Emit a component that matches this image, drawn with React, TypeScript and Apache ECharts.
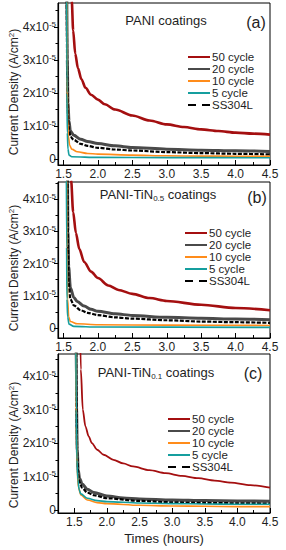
import React, { useEffect, useRef } from "react";
import * as echarts from "echarts";

// values in units of 1e-5 A/cm^2, time in hours
const legendNames = ["50 cycle", "20 cycle", "10 cycle", "5 cycle", "SS304L"];
const xTickValues = [1.5, 2.0, 2.5, 3.0, 3.5, 4.0, 4.5];
const xMinorValues = [1.25, 1.75, 2.25, 2.75, 3.25, 3.75, 4.25];
const yTickValues = [0, 1, 2, 3, 4];
const yMinorValues = [0.5, 1.5, 2.5, 3.5, 4.5];

// Panel (a) PANI coatings
const a50 = [[1.6, 6], [1.62, 4.8], [1.64, 3.9], [1.67, 3.2], [1.71, 2.75], [1.76, 2.42], [1.82, 2.16], [1.9, 1.95], [2.0, 1.8], [2.1, 1.66], [2.25, 1.5], [2.5, 1.32], [2.75, 1.17], [3.0, 1.05], [3.25, 0.97], [3.5, 0.9], [3.75, 0.85], [4.0, 0.8], [4.25, 0.77], [4.5, 0.74]];
const a20 = [[1.545, 6], [1.555, 3.0], [1.565, 1.7], [1.58, 1.15], [1.6, 0.85], [1.65, 0.72], [1.75, 0.6], [1.85, 0.53], [2.0, 0.47], [2.25, 0.4], [2.5, 0.35], [3.0, 0.3], [3.5, 0.27], [4.0, 0.25], [4.5, 0.23]];
const a10 = [[1.548, 6], [1.552, 2.5], [1.56, 1.2], [1.57, 0.7], [1.59, 0.42], [1.62, 0.3], [1.7, 0.22], [1.85, 0.17], [2.0, 0.15], [2.5, 0.12], [3.0, 0.1], [3.5, 0.09], [4.0, 0.085], [4.5, 0.08]];
const a5 = [[1.545, 6], [1.55, 2], [1.555, 0.8], [1.565, 0.3], [1.58, 0.12], [1.62, 0.07], [2.0, 0.05], [3.0, 0.045], [4.5, 0.04]];
const aSS = [[1.545, 6], [1.555, 2.4], [1.565, 1.3], [1.58, 0.9], [1.6, 0.68], [1.65, 0.58], [1.75, 0.46], [1.85, 0.4], [2.0, 0.34], [2.25, 0.29], [2.5, 0.26], [3.0, 0.21], [3.5, 0.18], [4.0, 0.16], [4.5, 0.14]];

// Panel (b) PANI-TiN0.5 coatings
const b50 = [[1.59, 6], [1.61, 4.6], [1.64, 3.6], [1.68, 2.95], [1.73, 2.45], [1.8, 2.05], [1.9, 1.75], [2.0, 1.55], [2.15, 1.32], [2.3, 1.18], [2.5, 1.06], [2.75, 0.93], [3.0, 0.84], [3.5, 0.72], [4.0, 0.62], [4.5, 0.55]];
const b20 = [[1.555, 6], [1.565, 3], [1.575, 1.9], [1.6, 1.25], [1.65, 0.95], [1.7, 0.82], [1.8, 0.68], [1.9, 0.58], [2.0, 0.52], [2.25, 0.44], [2.5, 0.39], [3.0, 0.33], [3.5, 0.3], [4.0, 0.28], [4.5, 0.26]];
const b10 = [[1.545, 6], [1.55, 2.5], [1.56, 0.9], [1.575, 0.35], [1.6, 0.2], [1.7, 0.13], [2.0, 0.1], [3.0, 0.09], [4.5, 0.08]];
const b5 = [[1.54, 6], [1.545, 2.5], [1.55, 0.9], [1.56, 0.35], [1.58, 0.12], [1.65, 0.05], [2.0, 0.03], [4.5, 0.02]];
const bSS = [[1.555, 6], [1.565, 2.5], [1.575, 1.4], [1.6, 0.9], [1.65, 0.7], [1.75, 0.55], [1.85, 0.47], [2.0, 0.4], [2.25, 0.33], [2.5, 0.29], [3.0, 0.24], [3.5, 0.2], [4.0, 0.18], [4.5, 0.16]];

// Panel (c) PANI-TiN0.1 coatings
const c50 = [[1.585, 6], [1.6, 4.2], [1.63, 3.0], [1.67, 2.5], [1.72, 2.2], [1.77, 2.0], [1.85, 1.8], [1.95, 1.65], [2.1, 1.5], [2.25, 1.39], [2.4, 1.3], [2.65, 1.19], [2.9, 1.1], [3.15, 1.02], [3.4, 0.95], [3.65, 0.88], [3.9, 0.82], [4.2, 0.74], [4.5, 0.67]];
const c20 = [[1.525, 6], [1.535, 3], [1.545, 1.8], [1.56, 1.2], [1.58, 0.95], [1.62, 0.78], [1.7, 0.62], [1.8, 0.52], [2.0, 0.42], [2.25, 0.36], [2.5, 0.33], [3.0, 0.3], [3.5, 0.28], [4.0, 0.27], [4.5, 0.26]];
const c10 = [[1.52, 6], [1.53, 2.5], [1.545, 1.2], [1.56, 0.7], [1.6, 0.45], [1.7, 0.3], [1.85, 0.22], [2.0, 0.19], [2.5, 0.14], [3.0, 0.12], [3.5, 0.11], [4.0, 0.1], [4.5, 0.1]];
const c5 = [[1.52, 6], [1.53, 3], [1.54, 1.5], [1.555, 0.9], [1.575, 0.6], [1.6, 0.48], [1.7, 0.35], [1.85, 0.28], [2.0, 0.25], [2.5, 0.21], [3.0, 0.19], [3.5, 0.18], [4.0, 0.17], [4.5, 0.17]];
const cSS = [[1.525, 6], [1.535, 2.8], [1.545, 1.6], [1.56, 1.05], [1.58, 0.82], [1.62, 0.66], [1.7, 0.52], [1.8, 0.44], [2.0, 0.35], [2.5, 0.27], [3.0, 0.23], [3.5, 0.21], [4.0, 0.2], [4.5, 0.19]];

const panelTitles = ["PANI coatings", "PANI-TiN{sub|0.5} coatings", "PANI-TiN{sub|0.1} coatings"];
const panelLetters = ["(a)", "(b)", "(c)"];
const yAxisTitle = "Current Density (A/cm{sup|2})";
const xAxisTitle = "Times (hours)";

const panelData = [
  { s50: a50, s20: a20, s10: a10, s5: a5, ss: aSS },
  { s50: b50, s20: b20, s10: b10, s5: b5, ss: bSS },
  { s50: c50, s20: c20, s10: c10, s5: c5, ss: cSS },
];

const FONT = "'Liberation Sans', Arial, sans-serif";
const TXT = "#1e1e1e";
const C50 = "#a40f10";
const C20 = "#4a4a4a";
const C10 = "#ff8c1a";
const C5 = "#159e9e";
const CSS = "#000000";

const layout = [
  { top: 3, height: 162, xMin: 1.42, yMin: -0.18, yMax: 4.73, legTop: 51, legLeft: 188, titleX: 166, titleY: 20, letX: 256, letY: 22, nameY: 92 },
  { top: 182, height: 156, xMin: 1.42, yMin: -0.31, yMax: 4.53, legTop: 227, legLeft: 185, titleX: 158, titleY: 194, letX: 257, letY: 197, nameY: 268 },
  { top: 354, height: 159, xMin: 1.25, yMin: -0.09, yMax: 4.66, legTop: 413, legLeft: 168, titleX: 156, titleY: 372, letX: 253, letY: 373, nameY: 445 },
];

const dashIcon = "path://M0,0h8v2h-8z M14,0h8v2h-8z";

function buildOption() {
  const grid: any[] = [];
  const xAxis: any[] = [];
  const yAxis: any[] = [];
  const series: any[] = [];
  const legend: any[] = [];
  const graphic: any[] = [];

  layout.forEach((L, i) => {
    grid.push({ left: 58, width: 212, top: L.top, height: L.height, show: true, borderColor: "#000", borderWidth: 1, backgroundColor: "transparent", containLabel: false, outerBoundsMode: "none" });
    const xm = xMinorValues.filter((v) => v >= L.xMin);
    xAxis.push({
      type: "value", gridIndex: i, min: L.xMin, max: 4.5, position: "bottom",
      axisLine: { show: true, onZero: false, lineStyle: { color: "#000", width: 1.2 } },
      axisTick: { show: true, inside: true, length: 5, customValues: xTickValues, lineStyle: { color: "#000", width: 1 } },
      axisLabel: { customValues: xTickValues, formatter: (v: number) => v.toFixed(1), fontSize: 12, color: TXT, fontFamily: FONT, margin: 3 },
      splitLine: { show: false },
      name: i === 2 ? xAxisTitle : "", nameLocation: "middle", nameGap: 19,
      nameTextStyle: { fontSize: 13, color: TXT, fontFamily: FONT },
    });
    xAxis.push({
      type: "value", gridIndex: i, min: L.xMin, max: 4.5, position: "bottom",
      axisLine: { show: false, onZero: false },
      axisTick: { show: true, inside: true, length: 3, customValues: xm, lineStyle: { color: "#000", width: 1 } },
      axisLabel: { show: false }, splitLine: { show: false },
    });
    yAxis.push({
      type: "value", gridIndex: i, min: L.yMin, max: L.yMax, position: "left",
      axisLine: { show: true, onZero: false, lineStyle: { color: "#000", width: 1.2 } },
      axisTick: { show: true, inside: false, length: 4, customValues: yTickValues, lineStyle: { color: "#000", width: 1 } },
      axisLabel: {
        customValues: yTickValues, margin: 2, color: TXT, fontFamily: FONT, fontSize: 12,
        formatter: (v: number) => (v === 0 ? "{b|0}" : `{b|${v}x10}{s|-5}`),
        rich: {
          b: { fontSize: 12, lineHeight: 14, color: TXT, fontFamily: FONT },
          s: { fontSize: 8, lineHeight: 14, verticalAlign: "top", color: TXT, fontFamily: FONT },
        },
      },
      splitLine: { show: false },
    });
    yAxis.push({
      type: "value", gridIndex: i, min: L.yMin, max: L.yMax, position: "left",
      axisLine: { show: false, onZero: false },
      axisTick: { show: true, inside: false, length: 2.5, customValues: yMinorValues.filter((v) => v <= L.yMax), lineStyle: { color: "#000", width: 1 } },
      axisLabel: { show: false }, splitLine: { show: false },
    });

    const d = panelData[i];
    const base = { type: "line", xAxisIndex: 2 * i, yAxisIndex: 2 * i, symbol: "none", showSymbol: false, smooth: 0.3, smoothMonotone: "x", clip: true };
    series.push({ ...base, name: "20 cycle", data: d.s20, z: 2, lineStyle: { color: C20, width: 3 }, itemStyle: { color: C20 } });
    series.push({ ...base, name: "SS304L", data: d.ss, z: 3, lineStyle: { color: CSS, width: 2.2, type: [4, 1.5] }, itemStyle: { color: CSS } });
    series.push({ ...base, name: "10 cycle", data: d.s10, z: 4, lineStyle: { color: C10, width: 1.6 }, itemStyle: { color: C10 } });
    series.push({ ...base, name: "5 cycle", data: d.s5, z: 5, lineStyle: { color: C5, width: 1.6 }, itemStyle: { color: C5 } });
    series.push({ ...base, name: "50 cycle", data: d.s50, z: 6, lineStyle: { color: C50, width: i === 2 ? 1.8 : 2.6 }, itemStyle: { color: C50 } });

    legend.push({
      show: true, selectedMode: false, orient: "vertical", left: L.legLeft, top: L.legTop,
      itemWidth: 22, itemHeight: 2, itemGap: 0, padding: 0, symbolKeepAspect: false,
      textStyle: { fontSize: 11.5, lineHeight: 11.6, color: TXT, fontFamily: FONT, padding: [0, 0, 0, -3] },
      data: legendNames.map((n) => (n === "SS304L" ? { name: n, icon: dashIcon } : { name: n, icon: "rect" })),
    });

    graphic.push({
      type: "text", x: L.titleX, y: L.titleY, z: 10,
      style: {
        text: panelTitles[i], fill: TXT, font: `13px ${FONT}`, align: "center", verticalAlign: "middle",
        rich: { sub: { fontSize: 8, verticalAlign: "bottom", fill: TXT, fontFamily: FONT, lineHeight: 16 } },
      },
    });
    graphic.push({
      type: "text", x: L.letX, y: L.letY, z: 10,
      style: { text: panelLetters[i], fill: TXT, font: `16px ${FONT}`, align: "center", verticalAlign: "middle" },
    });
    graphic.push({
      type: "text", x: 14, y: L.nameY, rotation: Math.PI / 2, z: 10,
      style: {
        text: yAxisTitle, fill: TXT, font: `12px ${FONT}`, align: "center", verticalAlign: "middle",
        rich: { sup: { fontSize: 8, verticalAlign: "top", lineHeight: 14, fill: TXT, fontFamily: FONT } },
      },
    });
  });

  return { animation: false, backgroundColor: "#fff", textStyle: { fontFamily: FONT }, grid, xAxis, yAxis, series, legend, graphic };
}

export default function App() {
  const ref = useRef<HTMLDivElement>(null);
  useEffect(() => {
    if (!ref.current) return;
    const chart = echarts.init(ref.current, undefined, { renderer: "svg" });
    chart.setOption(buildOption() as any);
    return () => chart.dispose();
  }, []);
  return <div ref={ref} style={{ position: "absolute", left: 0, top: 0, width: 286, height: 550 }} />;
}
